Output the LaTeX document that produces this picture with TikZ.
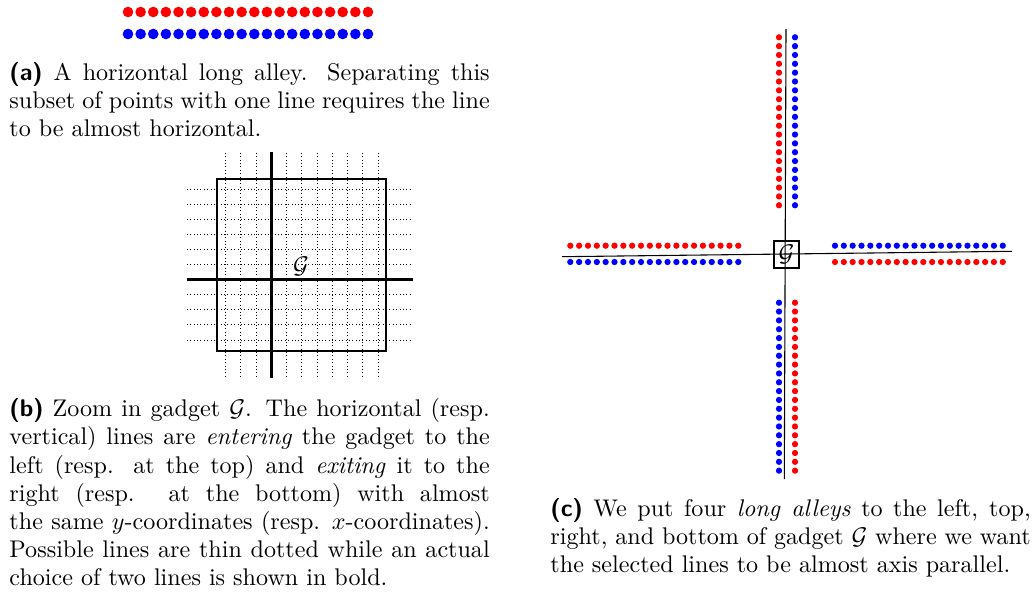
\documentclass[tikz,border=0pt]{standalone}
\usepackage{amsmath}
\usetikzlibrary{positioning}
\tikzset{
    red dot/.style={fill=red},
    blue dot/.style={fill=blue},
    possible line/.style={densely dotted, line width=0.4pt},
    chosen line/.style={line width=1.3pt},
    gadget box/.style={draw, line width=0.45pt},
    subcap/.style={
        text width=199.3pt,
        align=justify,
        inner sep=0pt,
        anchor=base west,
        font=\fontsize{10}{11.7}\selectfont
    }
}

\begin{document}
\begin{tikzpicture}[x=0.415pt, y=-0.415pt]
    \useasboundingbox (0,0) rectangle (1034,610);

    % (a) one long alley
    \foreach \i in {0,...,19} {
        \fill[red dot] (128+12.63*\i, 12) circle[radius=2.2pt];
        \fill[blue dot] (128+12.63*\i, 34) circle[radius=2.2pt];
    }
    \node[subcap] (capA) at (9, 80) {\textsf{\textbf{(a)}} A horizontal long alley. Separating this subset of points with one line requires the line to be almost horizontal.};

    % (b) zoom in the gadget
    \coordinate (B1) at (217, 179);
    \coordinate (B2) at (386, 351);
    \draw[gadget box] (B1) rectangle (B2);
    \foreach \j in {0,...,10}
        \draw[possible line] (187, 189+15.1*\j) -- (413, 189+15.1*\j);
    \foreach \i in {0,...,10}
        \draw[possible line] (225.7+15.23*\i, 153) -- (225.7+15.23*\i, 378);
    \coordinate (H1) at (187, 279.6);
    \coordinate (H2) at (413, 279.6);
    \coordinate (V1) at (271.4, 152);
    \coordinate (V2) at (271.4, 378);
    \draw[chosen line] (H1) -- (H2);
    \draw[chosen line] (V1) -- (V2);
    \node (gadgetB) at (301, 266) {$\mathcal{G}$};
    \node[subcap] (capB) at (9, 416.7) {\textsf{\textbf{(b)}} Zoom in gadget $\mathcal{G}$. The horizontal (resp. vertical) lines are \emph{entering} the gadget to the left (resp. at the top) and \emph{exiting} it to the\linebreak{} right (resp. at the bottom) with almost the same $y$-coordinates (resp. $x$-coordinates). Possible lines are thin dotted while an actual choice of two lines is shown in bold.};

    % (c) four long alleys round the gadget
    \node[gadget box, minimum width=10.4pt, minimum height=11.2pt, inner sep=0pt] (gadgetC) at (786.5, 254.5) {$\mathcal{G}$};
    \coordinate (L) at (562, 256.7);
    \coordinate (R) at (1012, 251.3);
    \coordinate (T) at (786, 29);
    \coordinate (D) at (784.3, 479);
    \draw[line width=0.45pt] (L) -- (R);
    \draw[line width=0.45pt] (T) -- (D);
    \foreach \k in {0,...,19} {
        % top
        \fill[red dot] (779, 37.3+8.84*\k) circle[radius=1.3pt];
        \fill[blue dot] (795, 37.3+8.84*\k) circle[radius=1.3pt];
        % bottom
        \fill[blue dot] (779, 302.7+8.84*\k) circle[radius=1.3pt];
        \fill[red dot] (795, 302.7+8.84*\k) circle[radius=1.3pt];
        % left
        \fill[red dot] (570.3+8.84*\k, 245.7) circle[radius=1.3pt];
        \fill[blue dot] (570.3+8.84*\k, 262) circle[radius=1.3pt];
        % right
        \fill[blue dot] (835+8.83*\k, 245.7) circle[radius=1.3pt];
        \fill[red dot] (835+8.83*\k, 262) circle[radius=1.3pt];
    }
    \node[subcap] (capC) at (550, 516) {\textsf{\textbf{(c)}} We put four \emph{long alleys} to the left, top, right, and bottom of gadget $\mathcal{G}$ where we want the selected lines to be almost axis parallel.};
\end{tikzpicture}
\end{document}
